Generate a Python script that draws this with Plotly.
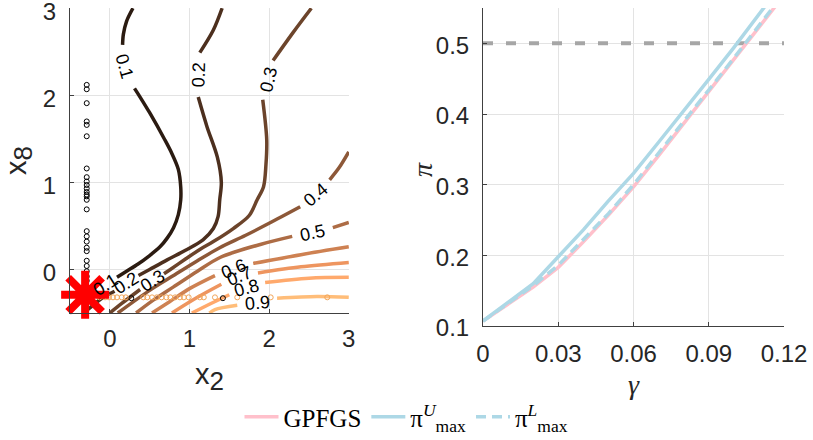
import plotly.graph_objects as go

# ---------------- left panel: contour levels ----------------
levels = [0.1, 0.2, 0.3, 0.4, 0.5, 0.6, 0.7, 0.8, 0.9]

c1_x = [-0.5, -0.35, -0.21, None, 0.09, 0.21, 0.35, 0.50, 0.63, 0.72, 0.80, 0.86, 0.89, 0.89, 0.86, 0.78, 0.69, 0.50, 0.38, 0.31, None, 0.16, 0.17, 0.21, 0.29]
c1_y = [-0.43, -0.35, -0.27, None, -0.09, -0.02, 0.06, 0.16, 0.26, 0.36, 0.48, 0.63, 0.80, 0.95, 1.15, 1.33, 1.49, 1.80, 1.98, 2.08, None, 2.58, 2.70, 2.85, 3.0]

c2_x = [-0.34, -0.25, -0.10, 0.06, None, 0.36, 0.50, 0.72, 0.95, 1.17, 1.30, 1.36, 1.38, 1.40, 1.35, 1.22, 1.11, None, 1.13, 1.30, 1.41]
c2_y = [-0.5, -0.44, -0.33, -0.25, None, -0.07, 0.0, 0.11, 0.22, 0.34, 0.47, 0.61, 0.80, 1.0, 1.29, 1.64, 1.98, None, 2.49, 2.75, 3.0]

c3_x = [0.0, 0.15, 0.38, None, 0.68, 0.76, 0.95, 1.13, 1.30, 1.55, 1.75, 1.85, 1.93, 1.96, 1.97, 1.92, None, 2.05, 2.30, 2.53]
c3_y = [-0.5, -0.39, -0.23, None, -0.05, 0.0, 0.12, 0.23, 0.32, 0.47, 0.62, 0.80, 0.95, 1.20, 1.49, 1.95, None, 2.40, 2.72, 3.0]

c4_x = [0.10, 0.5, 0.8, 1.1, 1.38, 1.70, 2.0, 2.39, None, 2.76, 2.88, 3.0]
c4_y = [-0.5, -0.24, -0.07, 0.10, 0.25, 0.39, 0.53, 0.72, None, 1.03, 1.17, 1.35]

c5_x = [0.33, 0.55, 0.8, 1.1, 1.39, 1.9, 2.29, None, 2.80, 3.0]
c5_y = [-0.5, -0.35, -0.2, -0.02, 0.14, 0.29, 0.38, None, 0.48, 0.54]

c6_x = [0.53, 0.75, 1.0, 1.32, None, 1.80, 2.4, 3.0]
c6_y = [-0.5, -0.37, -0.22, -0.07, None, 0.07, 0.17, 0.26]

c7_x = [0.78, 1.1, 1.40, None, 1.86, 2.4, 3.0]
c7_y = [-0.5, -0.32, -0.17, None, -0.04, 0.03, 0.08]

c8_x = [1.03, 1.25, 1.50, None, 1.95, 2.5, 3.0]
c8_y = [-0.5, -0.40, -0.29, None, -0.15, -0.10, -0.09]

c9_x = [1.25, 1.32, 1.60, None, 2.10, 2.6, 3.0]
c9_y = [-0.5, -0.46, -0.41, None, -0.33, -0.31, -0.32]

contour_x = [c1_x, c2_x, c3_x, c4_x, c5_x, c6_x, c7_x, c8_x, c9_x]
contour_y = [c1_y, c2_y, c3_y, c4_y, c5_y, c6_y, c7_y, c8_y, c9_y]

# contour labels
label_text = ["0.1", "0.1", "0.2", "0.2", "0.3", "0.3", "0.4", "0.5", "0.6", "0.7", "0.8", "0.9"]
label_x = [0.19, -0.06, 1.12, 0.21, 1.99, 0.53, 2.58, 2.54, 1.55, 1.63, 1.72, 1.85]
label_y = [2.33, -0.18, 2.23, -0.16, 2.18, -0.13, 0.86, 0.42, 0.01, -0.08, -0.21, -0.38]
label_angle = [74, -32, -88, -32, -76, -32, -40, -12, -22, -22, -15, -5]

# sample points
black_x = [-0.29, -0.29, -0.29, -0.29, -0.29, -0.29, -0.29, -0.29, -0.29, -0.29, -0.29, -0.29, -0.29,
           -0.29, -0.29, -0.29, -0.29, -0.29, -0.29, -0.29, -0.29, -0.29, -0.29, -0.29, -0.29, -0.29,
           0.27, 1.42]
black_y = [2.12, 2.07, 1.91, 1.70, 1.66, 1.53, 1.16, 1.06, 1.01, 0.97, 0.93, 0.89, 0.86,
           0.84, 0.80, 0.69, 0.44, 0.38, 0.32, 0.25, 0.21, 0.10, 0.04, -0.02, -0.08, -0.13,
           -0.33, -0.33]
orange_x = [-0.13, -0.06, -0.01, 0.04, 0.09, 0.15, 0.20, 0.42, 0.47, 0.53, 0.59, 0.65, 0.71,
            0.76, 0.82, 0.88, 0.93, 0.99, 1.13, 1.18, 1.32, 1.60, 2.02, 2.73]
orange_y = [-0.32, -0.32, -0.32, -0.32, -0.32, -0.32, -0.32, -0.32, -0.32, -0.32, -0.32, -0.32, -0.32,
            -0.32, -0.32, -0.32, -0.32, -0.32, -0.32, -0.32, -0.32, -0.32, -0.32, -0.32]
star_x = [-0.31]
star_y = [-0.29]

left_ticks = [0, 1, 2, 3]

# ---------------- right panel ----------------
gamma = [0, 0.02, 0.03, 0.04, 0.05, 0.06, 0.07, 0.08, 0.09, 0.10, 0.11, 0.12]
pi_gpfgs = [0.107, 0.155, 0.183, 0.219, 0.257, 0.297, 0.341, 0.386, 0.431, 0.476, 0.522, 0.568]
pi_upper = [0.107, 0.160, 0.198, 0.236, 0.277, 0.316, 0.360, 0.404, 0.449, 0.494, 0.541, 0.588]
pi_lower = [0.107, 0.157, 0.186, 0.222, 0.259, 0.300, 0.344, 0.389, 0.434, 0.479, 0.525, 0.571]
threshold = 0.5

x_ticks_r = [0, 0.03, 0.06, 0.09, 0.12]
x_ticktext_r = ["0", "0.03", "0.06", "0.09", "0.12"]
y_ticks_r = [0.1, 0.2, 0.3, 0.4, 0.5]
y_ticktext_r = ["0.1", "0.2", "0.3", "0.4", "0.5"]

# ---------------- styles ----------------
copper = ["#2B1B11", "#4C2F1E", "#6C442B", "#8D5838", "#AD6C45", "#CE8152", "#EE955F", "#FFA96C", "#FFBD79"]
PINK = "#FFC0CB"
BLUE = "#ADD8E6"
SANS = "Liberation Sans"
SERIF = "Liberation Serif"
TXT = "#262626"

fig = go.Figure()

for i, lev in enumerate(levels):
    fig.add_trace(go.Scatter(x=contour_x[i], y=contour_y[i], mode="lines",
                             line=dict(color=copper[i], width=3.5, shape="spline", smoothing=0.9),
                             xaxis="x", yaxis="y", showlegend=False, hoverinfo="skip"))

fig.add_trace(go.Scatter(x=black_x, y=black_y, mode="markers",
                         marker=dict(symbol="circle-open", size=5, color="black", line=dict(width=1)),
                         xaxis="x", yaxis="y", showlegend=False))
fig.add_trace(go.Scatter(x=orange_x, y=orange_y, mode="markers",
                         marker=dict(symbol="circle-open", size=5, color="#F2A65A", line=dict(width=1)),
                         xaxis="x", yaxis="y", showlegend=False))
fig.add_trace(go.Scatter(x=star_x, y=star_y, mode="markers", cliponaxis=False,
                         marker=dict(symbol="asterisk-open", size=40, color="red", line=dict(width=8, color="red")),
                         xaxis="x", yaxis="y", showlegend=False))

for t, lx, ly, la in zip(label_text, label_x, label_y, label_angle):
    fig.add_annotation(x=lx, y=ly, xref="x", yref="y", text=t, textangle=la, showarrow=False,
                       font=dict(family=SANS, size=18, color="black"))

# right panel lines
fig.add_trace(go.Scatter(x=[0, 0.12], y=[threshold, threshold], mode="lines",
                         line=dict(color="#A6A6A6", width=4, dash="10px,13px"),
                         xaxis="x2", yaxis="y2", showlegend=False))
fig.add_trace(go.Scatter(x=gamma, y=pi_gpfgs, mode="lines", name="GPFGS",
                         line=dict(color=PINK, width=3.5), xaxis="x2", yaxis="y2"))
fig.add_trace(go.Scatter(x=gamma, y=pi_upper, mode="lines",
                         name="π<sup><i>U</i></sup><sub>max</sub>",
                         line=dict(color=BLUE, width=3.5), xaxis="x2", yaxis="y2"))
fig.add_trace(go.Scatter(x=gamma, y=pi_lower, mode="lines",
                         name="π<sup><i>L</i></sup><sub>max</sub>",
                         line=dict(color=BLUE, width=3.5, dash="10px,6px"), xaxis="x2", yaxis="y2"))

# y title of the right panel, placed like the reference
fig.add_annotation(x=423/813, y=1-169/440, xref="paper", yref="paper", text="<i>π</i>", textangle=-90,
                   showarrow=False, font=dict(family=SERIF, size=28, color=TXT))

axis_common = dict(showline=True, linecolor="#404040", linewidth=1, showgrid=True, gridcolor="#E3E3E3",
                   gridwidth=1, zeroline=False, ticks="inside", ticklen=4, tickcolor="#404040",
                   tickfont=dict(family=SANS, size=24, color=TXT), mirror=False,
                   ticklabeloverflow="allow", automargin=False)

fig.update_layout(
    width=813, height=440, plot_bgcolor="white", paper_bgcolor="white",
    margin=dict(l=0, r=0, t=0, b=0, autoexpand=False),
    xaxis=dict(domain=[70/813, 349/813], range=[-0.5, 3.003], tickvals=left_ticks,
               title=dict(text="x<sub><span style='font-size:26px'>2</span></sub>",
                          font=dict(family=SANS, size=29, color=TXT), standoff=12),
               anchor="y", ticklabelstandoff=4, **axis_common),
    yaxis=dict(domain=[1-313/440, 1-8/440], range=[-0.5, 3.003], tickvals=left_ticks,
               title=dict(text="x<sub><span style='font-size:26px'>8</span></sub>",
                          font=dict(family=SANS, size=29, color=TXT), standoff=14),
               anchor="x", ticklabelstandoff=8, ticklabelshift=3, **axis_common),
    xaxis2=dict(domain=[483/813, 784/813], range=[0, 0.12], tickvals=x_ticks_r, ticktext=x_ticktext_r,
                title=dict(text="<i>γ</i>", font=dict(family=SERIF, size=28, color=TXT), standoff=8),
                anchor="y2", ticklabelstandoff=6, **axis_common),
    yaxis2=dict(domain=[1-326/440, 1-8/440], range=[0.1, 0.55], tickvals=y_ticks_r, ticktext=y_ticktext_r,
                anchor="x2", ticklabelstandoff=8, ticklabelshift=2, **axis_common),
    legend=dict(orientation="h", x=0.5, xanchor="center", y=0.0, yanchor="bottom",
                font=dict(family=SERIF, size=25, color="black"), bgcolor="rgba(0,0,0,0)",
                itemwidth=34, tracegroupgap=0),
)

fig.write_html("out.html", config={"displayModeBar": False},
               post_script="document.body.style.margin='0px';")
